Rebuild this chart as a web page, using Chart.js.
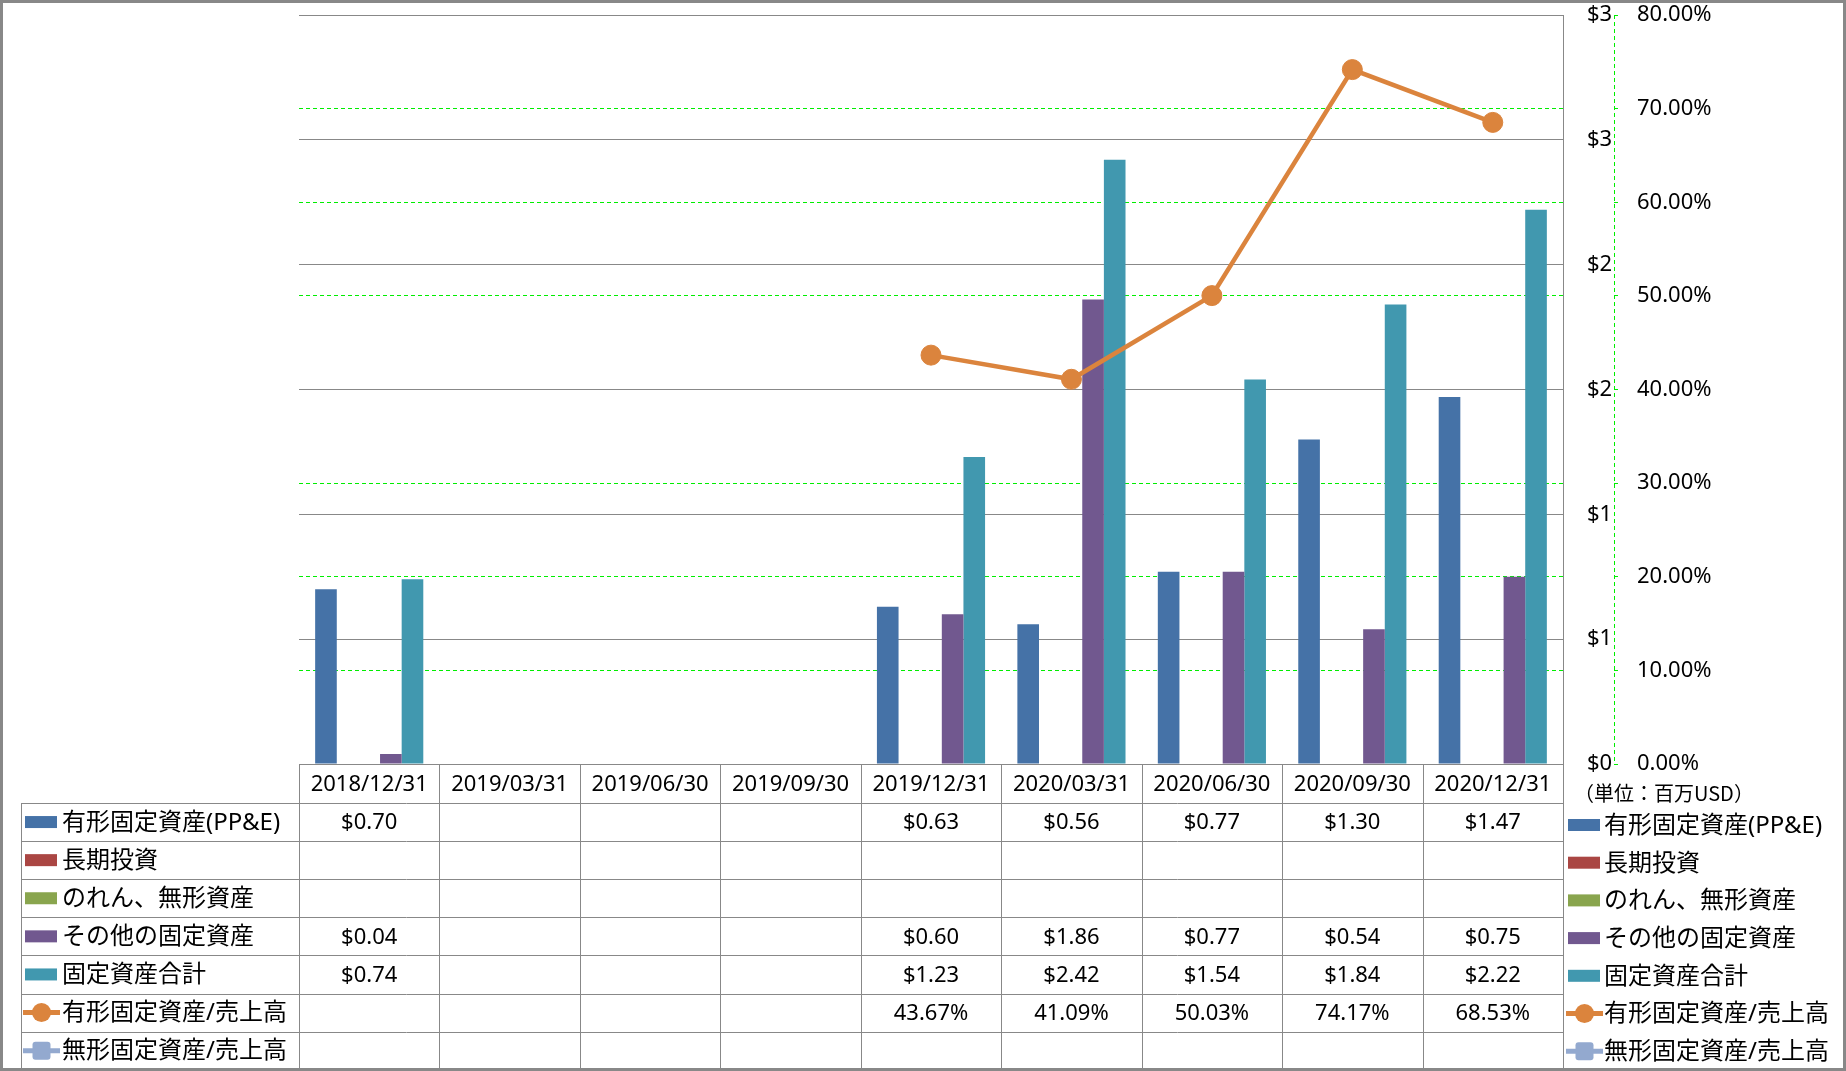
<!DOCTYPE html>
<html>
<head>
<meta charset="utf-8">
<script src="https://cdn.jsdelivr.net/npm/chart.js@4.4.1/dist/chart.umd.min.js"></script>
<style>
body { margin: 0; background: #fff; }
#wrap { width: 1846px; height: 1071px; }
</style>
</head>
<body>
<div id="wrap"><canvas id="assetChart" width="1846" height="1071"></canvas></div>
<script>
// Data
const periods = ['2018/12/31', '2019/03/31', '2019/06/30', '2019/09/30', '2019/12/31', '2020/03/31', '2020/06/30', '2020/09/30', '2020/12/31'];
const seriesNames = ['有形固定資産(PP&E)', '長期投資', 'のれん、無形資産', 'その他の固定資産', '固定資産合計', '有形固定資産/売上高', '無形固定資産/売上高'];
const ppeValues = [0.70, null, null, null, 0.63, 0.56, 0.77, 1.30, 1.47];
const longInvestValues = [null, null, null, null, null, null, null, null, null];
const goodwillValues = [null, null, null, null, null, null, null, null, null];
const otherFixedValues = [0.04, null, null, null, 0.60, 1.86, 0.77, 0.54, 0.75];
const totalFixedValues = [0.74, null, null, null, 1.23, 2.42, 1.54, 1.84, 2.22];
const ppeRatioValues = [null, null, null, null, 43.67, 41.09, 50.03, 74.17, 68.53];
const intangibleRatioValues = [null, null, null, null, null, null, null, null, null];
const unitLabel = '（単位：百万USD）';

const colors = ['#4572A7', '#AA4643', '#89A54E', '#71588F', '#4198AF', '#DB843D', '#93A9CF'];
const gridGrey = '#888888';
const green = '#00ee00';

Chart.defaults.font.family = "'Noto Sans', 'Noto Sans CJK JP', sans-serif";
Chart.defaults.font.size = 22;
Chart.defaults.color = '#000';

const barValues = [ppeValues, longInvestValues, goodwillValues, otherFixedValues, totalFixedValues];
const barSets = barValues.map((d, i) => ({
    type: 'bar',
    label: seriesNames[i],
    data: d,
    backgroundColor: colors[i],
    yAxisID: 'y',
    order: 1,
    categoryPercentage: 0.77,
    barPercentage: 1.0
}));

const lineSets = [
    {
        type: 'line',
        label: seriesNames[5],
        data: ppeRatioValues,
        yAxisID: 'y1',
        borderColor: colors[5],
        backgroundColor: colors[5],
        borderWidth: 4.5,
        pointRadius: 10,
        pointBorderWidth: 1,
        pointBackgroundColor: colors[5],
        order: 0
    },
    {
        type: 'line',
        label: seriesNames[6],
        data: intangibleRatioValues,
        yAxisID: 'y1',
        borderColor: colors[6],
        backgroundColor: colors[6],
        borderWidth: 4.5,
        pointStyle: 'rectRounded',
        pointRadius: 10,
        order: 0
    }
];

// rows of the data table under the plot
const tableRows = [
    { data: ppeValues, kind: 'bar', fmt: v => '$' + v.toFixed(2) },
    { data: longInvestValues, kind: 'bar', fmt: v => '$' + v.toFixed(2) },
    { data: goodwillValues, kind: 'bar', fmt: v => '$' + v.toFixed(2) },
    { data: otherFixedValues, kind: 'bar', fmt: v => '$' + v.toFixed(2) },
    { data: totalFixedValues, kind: 'bar', fmt: v => '$' + v.toFixed(2) },
    { data: ppeRatioValues, kind: 'circle', fmt: v => v.toFixed(2) + '%' },
    { data: intangibleRatioValues, kind: 'square', fmt: v => v.toFixed(2) + '%' }
];

function drawKey(ctx, kind, color, x, y) {
    ctx.fillStyle = color;
    ctx.strokeStyle = color;
    if (kind === 'bar') {
        ctx.fillRect(x + 2, y - 6, 32, 12);
        return;
    }
    ctx.lineWidth = 5;
    ctx.beginPath();
    ctx.moveTo(x, y);
    ctx.lineTo(x + 37, y);
    ctx.stroke();
    if (kind === 'circle') {
        ctx.beginPath();
        ctx.arc(x + 18.5, y, 9.5, 0, Math.PI * 2);
        ctx.fill();
    } else {
        ctx.beginPath();
        ctx.roundRect(x + 9.5, y - 9, 18, 18, 3);
        ctx.fill();
    }
}

function hLine(ctx, x1, x2, y) {
    const yy = Math.round(y) + 0.5;
    ctx.beginPath(); ctx.moveTo(x1, yy); ctx.lineTo(x2, yy); ctx.stroke();
}
function vLine(ctx, x, y1, y2) {
    const xx = Math.round(x) + 0.5;
    ctx.beginPath(); ctx.moveTo(xx, y1); ctx.lineTo(xx, y2); ctx.stroke();
}

const tablePlugin = {
    id: 'dataTable',
    beforeDraw(chart) {
        const ctx = chart.ctx;
        ctx.save();
        ctx.fillStyle = '#fff';
        ctx.fillRect(0, 0, chart.width, chart.height);
        ctx.restore();
    },
    afterDraw(chart) {
        const ctx = chart.ctx;
        const area = chart.chartArea;
        const xs = chart.scales.x;
        const y1 = chart.scales.y1;
        const colW = (area.right - area.left) / periods.length;
        const headTop = area.bottom;
        const headBottom = headTop + 39;
        const rowH = 38.1;
        const tableBottom = headBottom + rowH * tableRows.length;
        const legendLeft = 21;

        ctx.save();
        // dashed secondary axis line
        ctx.strokeStyle = green;
        ctx.lineWidth = 1;
        ctx.setLineDash([4, 3]);
        vLine(ctx, y1.left, area.top, area.bottom);
        ctx.setLineDash([]);

        // table grid
        ctx.strokeStyle = gridGrey;
        ctx.lineWidth = 1;
        hLine(ctx, area.left, area.right, headTop);
        for (let r = 0; r <= tableRows.length; r++) {
            hLine(ctx, legendLeft, area.right, headBottom + r * rowH);
        }
        vLine(ctx, legendLeft, headBottom, tableBottom);
        for (let i = 0; i <= periods.length; i++) {
            vLine(ctx, area.left + i * colW, headTop, tableBottom);
        }

        // header labels and values
        ctx.fillStyle = '#000';
        ctx.textAlign = 'center';
        ctx.textBaseline = 'middle';
        ctx.font = "22px 'Noto Sans', 'Noto Sans CJK JP', sans-serif";
        periods.forEach((p, i) => {
            const cx = xs.getPixelForValue(i);
            ctx.fillText(p, cx, (headTop + headBottom) / 2 + 1);
            tableRows.forEach((row, r) => {
                const v = row.data[i];
                if (v === null || v === undefined) return;
                ctx.fillText(row.fmt(v), cx, headBottom + r * rowH + rowH / 2 + 1);
            });
        });

        // legend keys inside the table (left) and beside it (right)
        ctx.textAlign = 'left';
        ctx.font = "24px 'Noto Sans', 'Noto Sans CJK JP', sans-serif";
        tableRows.forEach((row, r) => {
            const cy = headBottom + r * rowH + rowH / 2;
            drawKey(ctx, row.kind, colors[r], 23, cy);
            ctx.fillStyle = '#000';
            ctx.fillText(seriesNames[r], 62, cy + 1);

            const ry = 825 + r * 37.7;
            drawKey(ctx, row.kind, colors[r], 1566, ry);
            ctx.fillStyle = '#000';
            ctx.fillText(seriesNames[r], 1604, ry + 1);
        });

        ctx.font = "20px 'Noto Sans CJK JP', sans-serif";
        ctx.fillText(unitLabel, 1574, 793);

        // outer frame
        ctx.strokeStyle = gridGrey;
        ctx.strokeRect(0.5, 0.5, chart.width - 1, chart.height - 1);
        ctx.restore();
    }
};

const ctxAssets = document.getElementById('assetChart').getContext('2d');
const assetChart = new Chart(ctxAssets, {
    data: {
        labels: periods,
        datasets: lineSets.concat(barSets)
    },
    options: {
        responsive: false,
        animation: false,
        events: [],
        layout: {
            padding: { left: 299, top: 15, right: 0, bottom: 307 }
        },
        plugins: {
            legend: { display: false },
            tooltip: { enabled: false }
        },
        scales: {
            x: {
                type: 'category',
                display: false,
                offset: true
            },
            y1: {
                position: 'right',
                weight: 1,
                min: 0,
                max: 80,
                ticks: {
                    stepSize: 10,
                    padding: 19,
                    callback: v => v.toFixed(2) + '%'
                },
                grid: {
                    color: green,
                    lineWidth: 1,
                    drawTicks: true,
                    tickLength: 4,
                    tickColor: green
                },
                border: { display: false, dash: [4, 3] },
                afterFit(scale) {
                    scale.width = 232;
                    scale.paddingTop = 0;
                    scale.paddingBottom = 0;
                }
            },
            y: {
                position: 'right',
                weight: 0,
                min: 0,
                max: 3,
                ticks: {
                    stepSize: 0.5,
                    padding: 24,
                    callback: v => '$' + Math.round(v)
                },
                grid: { color: gridGrey, lineWidth: 1, drawTicks: false },
                border: { display: true, color: gridGrey },
                afterFit(scale) {
                    scale.width = 51;
                    scale.paddingTop = 0;
                    scale.paddingBottom = 0;
                }
            }
        }
    },
    plugins: [tablePlugin]
});
</script>
</body>
</html>
